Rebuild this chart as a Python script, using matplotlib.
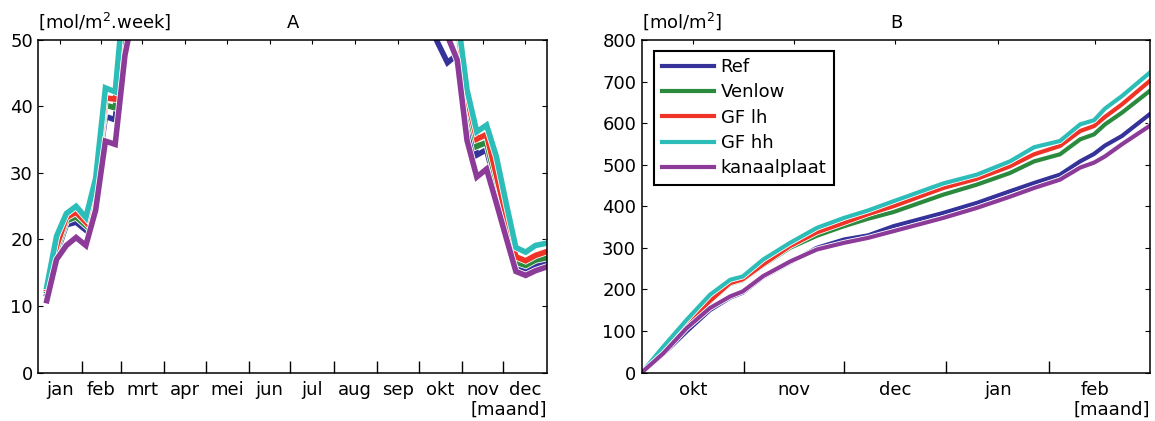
import numpy as np
import matplotlib
matplotlib.use("Agg")
import matplotlib.pyplot as plt
import matplotlib.patheffects as pe

nan = np.nan

names = ["Ref", "Venlow", "GF lh", "GF hh", "kanaalplaat"]
colors = ["#35329a", "#2b8a3e", "#ef3327", "#2dbdb8", "#8d3b99"]

# --- A: weekly light sum [mol/m2.week], week 1..52 (middle weeks are off the scale) ---
weeks = np.arange(1, 53)
week_ref = [11.8, 17.8, 22.2, 22.6, 21.4, 28.0, 38.5, 38.0, 51.5] + [nan] * 30 + \
           [53.0, 49.6, 46.6, 47.8, 39.0, 32.7, 33.5, 27.7, 21.9, 16.1, 15.3, 16.1, 16.6]
week_venlow = [12.3, 18.4, 22.8, 23.4, 22.1, 28.5, 40.2, 39.8, 51.5] + [nan] * 33 + \
              [52.0, 40.5, 34.0, 34.6, 28.6, 22.6, 16.6, 16.1, 16.9, 17.2]
week_gflh = [12.6, 19.0, 23.3, 24.1, 22.6, 28.8, 41.3, 41.1, 52.0] + [nan] * 33 + \
            [52.5, 41.3, 35.1, 35.8, 29.7, 23.5, 17.4, 16.8, 17.6, 18.1]
week_gfhh = [12.9, 20.5, 23.9, 25.0, 23.3, 29.2, 42.8, 42.2, 58.5] + [nan] * 33 + \
            [53.9, 42.5, 36.2, 37.2, 32.5, 25.5, 18.8, 18.1, 19.1, 19.4]
week_kanaal = [10.8, 17.0, 19.1, 20.3, 19.1, 24.4, 34.8, 34.3, 47.7, 55.0] + [nan] * 30 + \
              [60.0, 50.6, 47.0, 34.9, 29.4, 30.6, 25.5, 20.3, 15.2, 14.6, 15.3, 15.8]

months_a = ["jan", "feb", "mrt", "apr", "mei", "jun", "jul", "aug", "sep", "okt", "nov", "dec"]
month_days_a = [31, 28, 31, 30, 31, 30, 31, 31, 30, 31, 30, 31]

# --- B: cumulative light sum [mol/m2] from 1 October ---
days_b = [0, 6.5, 13.6, 20.6, 26.7, 30.5, 36.7, 44.8, 52.9, 61.1, 68.4, 76.0,
          91.1, 101.2, 111.2, 118.5, 126.3, 132.4, 136.6, 139.9, 145.0, 153.5]
cum_ref = [0, 44, 99, 150, 180, 192, 230, 265, 300, 320, 330, 352,
           384, 408, 436, 456, 476, 508, 526, 546, 569, 622]
cum_venlow = [0, 55, 117, 170, 213, 222, 258, 300, 329, 352, 370, 386,
              428, 452, 480, 508, 525, 561, 573, 597, 625, 678]
cum_gflh = [0, 55, 117, 172, 215, 224, 260, 304, 337, 360, 381, 400,
            444, 466, 496, 525, 545, 581, 593, 615, 645, 702]
cum_gfhh = [0, 62, 127, 187, 223, 231, 272, 312, 348, 372, 390, 412,
            455, 476, 508, 542, 557, 597, 607, 635, 665, 722]
cum_kanaal = [0, 46, 107, 155, 183, 195, 232, 267, 296, 312, 324, 340,
              372, 396, 423, 444, 464, 493, 505, 520, 549, 594]

months_b = ["okt", "nov", "dec", "jan", "feb"]
month_days_b = [31, 30, 31, 31, 28]

plt.rcParams['font.family'] = ['DejaVu Sans']
plt.rcParams['font.size'] = 13
plt.rcParams['axes.linewidth'] = 1.1

fig = plt.figure(figsize=(11.55, 4.21), dpi=100)
axA = fig.add_axes([0.0333, 0.1152, 0.4400, 0.7898])
axB = fig.add_axes([0.5556, 0.1152, 0.4401, 0.7898])


def month_axis(ax, month_days, labels, xmax):
    edges = np.cumsum(month_days)
    mids = edges - np.array(month_days) / 2
    ax.set_xlim(0, xmax)
    ax.set_xticks(mids)
    ax.set_xticklabels(labels)
    ax.set_xticks(edges[:-1], minor=True)
    ax.tick_params(axis='x', which='major', direction='in', bottom=False, top=True,
                   length=3, width=0.8, pad=6, labelsize=13)
    ax.tick_params(axis='x', which='minor', direction='in', bottom=True, top=False,
                   length=8.5, width=1.0)
    ax.tick_params(axis='y', direction='in', left=True, right=True, length=3.5,
                   width=0.8, labelsize=13, pad=4)


def draw(ax, x, ys, lw):
    for y, name, c in zip(ys, names, colors):
        ax.plot(x, y, color=c, lw=lw, label=name, solid_joinstyle='miter',
                path_effects=[pe.Stroke(linewidth=lw + 1.2, foreground='white'), pe.Normal()])


# A
week_day = (weeks - 0.15) * 365 / 52
draw(axA, week_day, [week_ref, week_venlow, week_gflh, week_gfhh, week_kanaal], 4.0)
month_axis(axA, month_days_a, months_a, 365)
axA.set_ylim(0, 50)
axA.set_yticks(np.arange(0, 51, 10))
axA.text(0, 1.024, r'[mol/m$^2$.week]', transform=axA.transAxes, ha='left', va='bottom')
axA.text(0.5, 1.024, 'A', transform=axA.transAxes, ha='center', va='bottom')
axA.text(1, -0.086, '[maand]', transform=axA.transAxes, ha='right', va='top')

# B
draw(axB, days_b, [cum_ref, cum_venlow, cum_gflh, cum_gfhh, cum_kanaal], 3.0)
month_axis(axB, month_days_b, months_b, 153.5)
axB.set_ylim(0, 800)
axB.set_yticks(np.arange(0, 801, 100))
axB.text(0, 1.024, r'[mol/m$^2$]', transform=axB.transAxes, ha='left', va='bottom')
axB.text(0.5, 1.024, 'B', transform=axB.transAxes, ha='center', va='bottom')
axB.text(1, -0.086, '[maand]', transform=axB.transAxes, ha='right', va='top')

leg = axB.legend(loc='upper left', bbox_to_anchor=(0.0248, 0.968), borderaxespad=0,
                 handlelength=2.9, handletextpad=0.35, labelspacing=0.4, borderpad=0.42,
                 fancybox=False, framealpha=1, edgecolor='black', fontsize=13)
leg.get_frame().set_linewidth(1.5)

fig.savefig("out.png", dpi=100)
